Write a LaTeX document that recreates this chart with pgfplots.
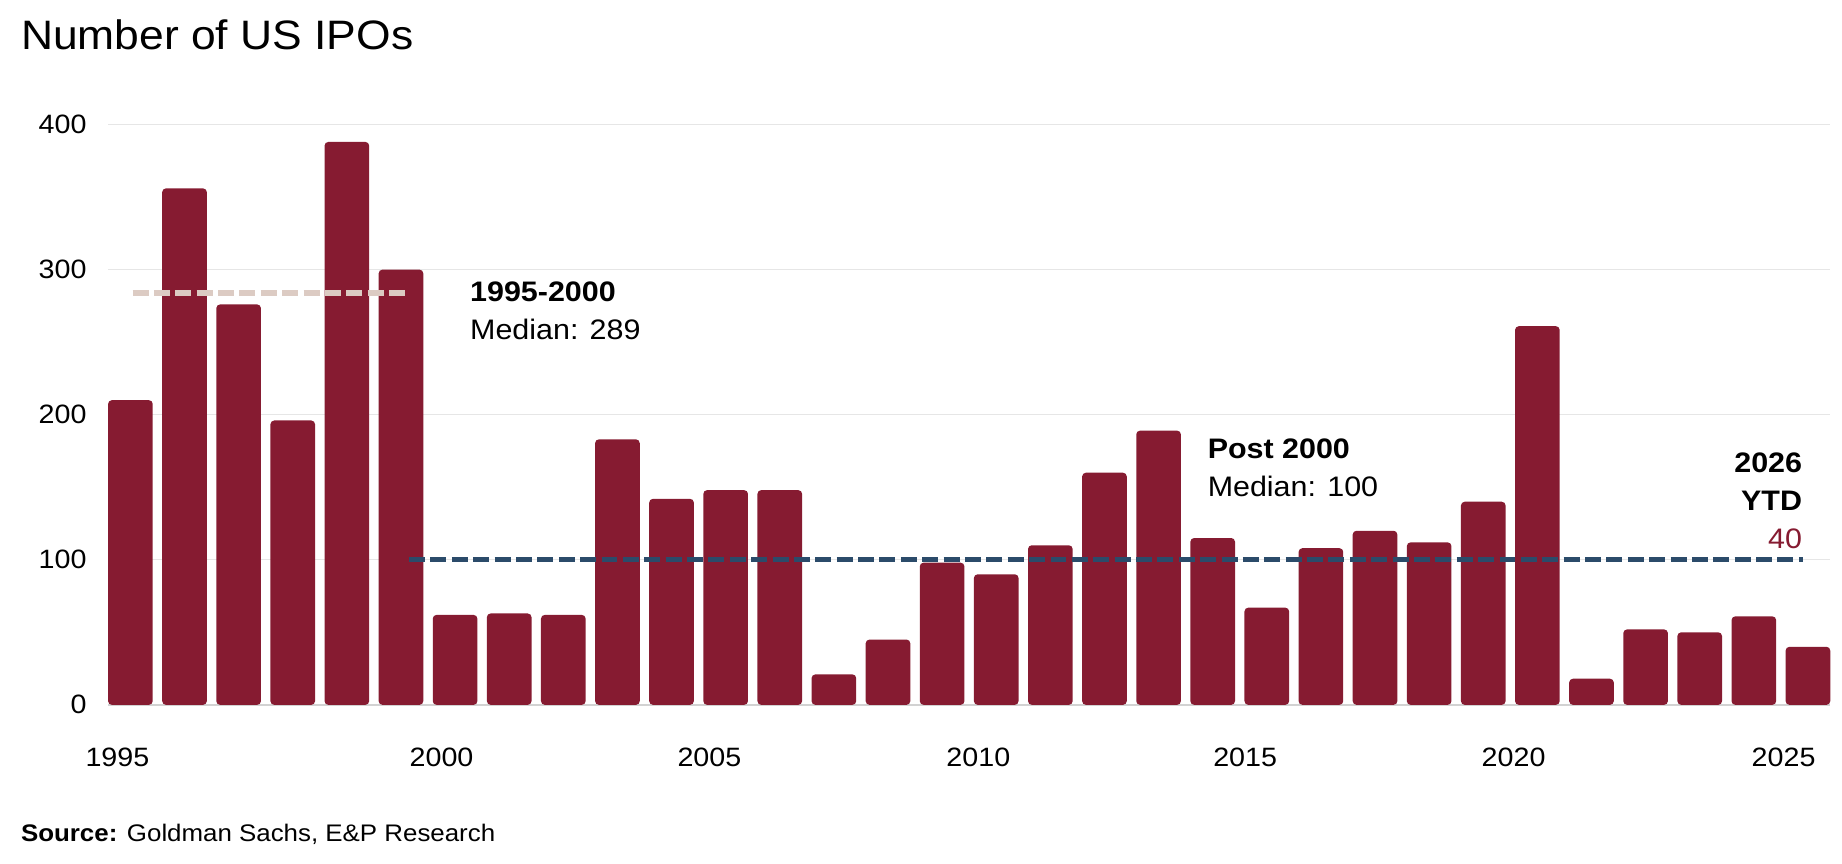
\documentclass[border=0pt]{standalone}
\usepackage{fontspec}
\setmainfont{Liberation Sans}[FakeStretch=1.08]
\usepackage{pgfplots}
\pgfplotsset{compat=1.18}
\definecolor{barred}{HTML}{861B31}
\definecolor{medblue}{HTML}{2B4B6A}
\definecolor{medbeige}{HTML}{DCCBC3}
\definecolor{gridgray}{HTML}{E6E6E6}
\definecolor{basegray}{HTML}{D2D2D2}
\begin{document}
\begin{tikzpicture}
\useasboundingbox (-46pt,-67.5pt) rectangle (738pt,300pt);
\begin{axis}[
  scale only axis,
  width=733pt, height=247pt,
  xmin=-0.4125, xmax=31.4125,
  ymin=0, ymax=400,
  axis line style={draw=none},
  major tick length=0pt,
  tick style={draw=none},
  ytick={100,200,300,400},
  extra y ticks={0},
  extra y tick style={grid style={basegray, line width=0.8pt}},
  ymajorgrids,
  grid style={gridgray, line width=0.6pt},
  xtick={-0.24,5.75,10.7,15.67,20.6,25.56,30.55},
  xticklabels={1995,2000,2005,2010,2015,2020,2025},
  /pgf/number format/assume math mode=true,
  yticklabel={\pgfmathprintnumber[assume math mode=true]{\tick}},
  tick label style={font=\fontsize{11.3pt}{13pt}\selectfont, text=black},
  yticklabel style={anchor=east, inner sep=0pt, xshift=-9pt},
  xticklabel style={anchor=north, inner sep=0pt, yshift=-18pt},
  clip=false,
  axis on top=false,
]
\addplot[ybar, bar width=19pt, fill=barred, draw=none, rounded corners=1.6pt] coordinates {
(0,210) (1,356) (2,276) (3,196) (4,388) (5,300) (6,62) (7,63) (8,62) (9,183)
(10,142) (11,148) (12,148) (13,21) (14,45) (15,98) (16,90) (17,110) (18,160) (19,189)
(20,115) (21,67) (22,108) (23,120) (24,112) (25,140) (26,261) (27,18) (28,52) (29,50)
(30,61) (31,40)};
\addplot[medbeige, line width=2.3pt, dash pattern=on 6.8pt off 2.3pt, no marks] coordinates {(0.04,284) (5.1,284)};
\addplot[medblue, line width=2.3pt, dash pattern=on 6.8pt off 2.3pt, no marks] coordinates {(5.15,100) (30.9,100)};
\node[anchor=base west, inner sep=0pt, font=\fontsize{12pt}{14pt}\selectfont\bfseries] at (axis cs:6.27,277.9) {1995-2000};
\node[anchor=base west, inner sep=0pt, font=\fontsize{12pt}{14pt}\selectfont] at (axis cs:6.27,251.5) {Median: 289};
\node[anchor=base west, inner sep=0pt, font=\fontsize{12pt}{14pt}\selectfont\bfseries] at (axis cs:19.9,169.6) {Post 2000};
\node[anchor=base west, inner sep=0pt, font=\fontsize{12pt}{14pt}\selectfont] at (axis cs:19.9,143.3) {Median: 100};
\node[anchor=base east, inner sep=0pt, font=\fontsize{12pt}{14pt}\selectfont\bfseries] at (axis cs:30.9,160.5) {2026};
\node[anchor=base east, inner sep=0pt, font=\fontsize{12pt}{14pt}\selectfont\bfseries] at (axis cs:30.9,134.1) {YTD};
\node[anchor=base east, inner sep=0pt, font=\fontsize{12pt}{14pt}\selectfont, text=barred] at (axis cs:30.9,107.7) {40};
\end{axis}
\node[anchor=base west, inner sep=0pt, font=\fontsize{17.5pt}{20pt}\selectfont] at (-37.25pt,279pt) {Number of US IPOs};
\node[anchor=base west, inner sep=0pt, font=\fontsize{10.2pt}{12pt}\selectfont] at (-37.25pt,-58.1pt) {\textbf{Source:} Goldman Sachs, E\&P Research};
\end{tikzpicture}
\end{document}
